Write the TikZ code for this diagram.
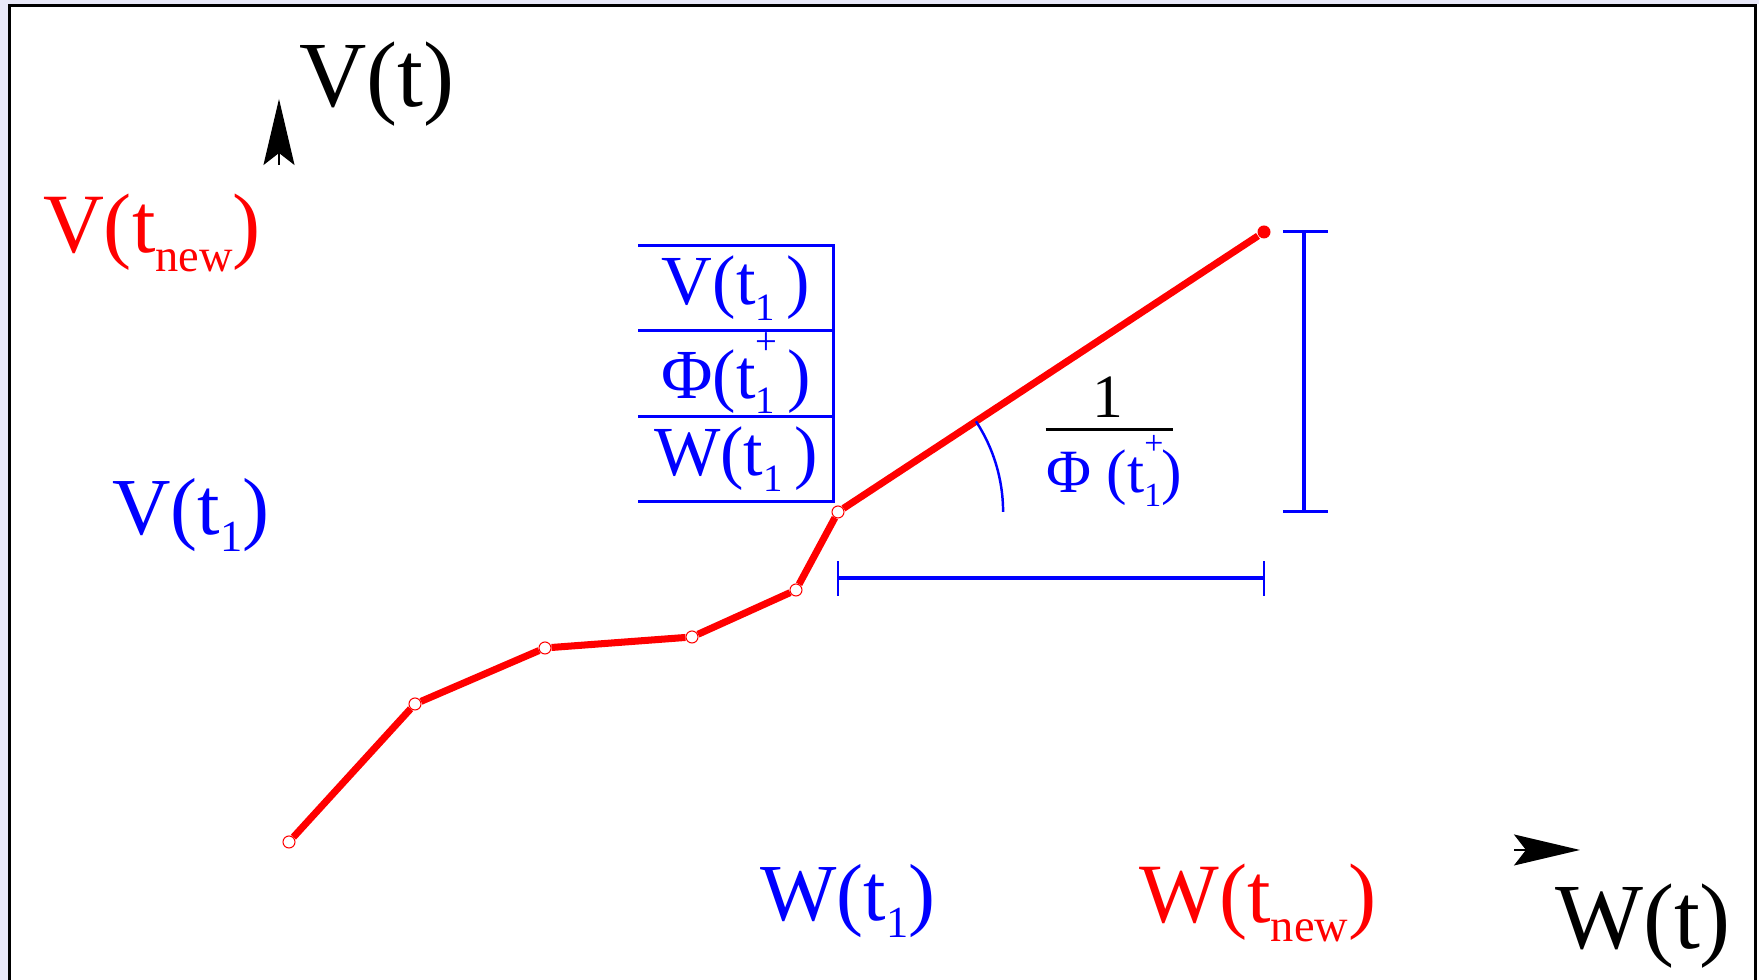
\documentclass[tikz,border=0pt]{standalone}
\usepackage{fontspec}
\setmainfont{LiberationSerif}[
    Extension=.ttf,
    UprightFont=*-Regular,
    BoldFont=*-Bold,
    ItalicFont=*-Italic,
    BoldItalicFont=*-BoldItalic
]
\usepackage{graphicx}
\usepackage{xcolor}
\usepackage{tikz}
\usetikzlibrary{arrows.meta, positioning}

\definecolor{pagebg}{RGB}{232,232,248}
\newcommand{\lsub}[1]{\raisebox{-0.22em}{\scalebox{0.55}{#1}}}
\newcommand{\lsubsup}[2]{\rlap{\raisebox{0.62em}{\scalebox{0.55}{#2}}}\lsub{#1}}

\begin{document}
\begin{tikzpicture}[
    x=0.01cm, y=0.01cm,
    axislabel/.style={font=\fontsize{26.5}{30}\selectfont, text=black, inner sep=0pt},
    redlabel/.style={font=\fontsize{24}{28}\selectfont, text=red, inner sep=0pt},
    bluelabel/.style={font=\fontsize{23}{27}\selectfont, text=blue, inner sep=0pt},
    cell/.style={
        rectangle,
        minimum width=1.94cm,
        minimum height=0.84cm,
        inner sep=0pt,
        text=blue,
        font=\fontsize{20}{24}\selectfont
    },
    joint/.style={circle, draw=red, fill=white, line width=0.3pt, inner sep=0pt, minimum size=0.12cm},
    enddot/.style={circle, fill=red, inner sep=0pt, minimum size=0.13cm},
    trace/.style={red, line width=2pt},
    axisarrow/.style={-{Stealth[length=0.66cm, width=0.31cm, inset=0.12cm]}},
    bracket/.style={blue, line width=1.4pt},
    barend/.style={blue, line width=0.85pt},
    thinline/.style={line width=0.85pt}
]

\useasboundingbox (0,0) rectangle (1759,980);
\fill[pagebg] (0,0) rectangle (1759,980);
\fill[white] (8,0) rectangle (1759,976);
\draw[thinline] (9.5,0) -- (9.5,974.5) -- (1755.5,974.5) -- (1755.5,0);

% axes
\coordinate (vbase) at (279,815);
\coordinate (vtip)  at (279,881);
\draw[axisarrow] (vbase) -- (vtip);
\coordinate (wbase) at (1514,130);
\coordinate (wtip)  at (1580,130);
\draw[axisarrow] (wbase) -- (wtip);

\node[axislabel] (vlabel) at (377,896) {V(t)};
\node[axislabel] (wlabel) at (1643,54)  {W(t)};

\node[redlabel]  (vnew) at (152,747)  {V(t\lsub{new})};
\node[redlabel]  (wnew) at (1258,77)  {W(t\lsub{new})};
\node[bluelabel] (vone) at (191,465)  {V(t\lsub{1})};
\node[bluelabel] (wone) at (848,79)   {W(t\lsub{1})};

% stored values
\node[cell] (rowv) at (736,692) {V(t\lsub{1}\,)};
\node[cell, below=0pt of rowv]   (rowphi) {Φ(t\lsubsup{1}{+}\,)};
\node[cell, below=0pt of rowphi] (roww)   {W(t\lsub{1}\,)};
\draw[blue, thinline] (rowv.north west) -- (rowv.north east) -- (roww.south east) -- (roww.south west);
\draw[blue, thinline] (rowphi.north west) -- (rowphi.north east);
\draw[blue, thinline] (roww.north west) -- (roww.north east);

% trajectory
\node[joint]  (p0) at (289,138) {};
\node[joint]  (p1) at (415,276) {};
\node[joint]  (p2) at (545,332) {};
\node[joint]  (p3) at (692,343) {};
\node[joint]  (p4) at (796,390) {};
\node[joint]  (p5) at (838,468) {};
\node[enddot] (p6) at (1264,748) {};
\draw[trace] (p0) -- (p1) -- (p2) -- (p3) -- (p4) -- (p5) -- (p6);

% slope
\draw[blue, line width=0.7pt] ([shift={(0:1.65cm)}]p5.center) arc[start angle=0, end angle=33.3, radius=1.65cm];
\node[text=black, font=\fontsize{17.5}{21}\selectfont, inner sep=0pt] (fnum) at (1108,583) {1};
\node[text=blue, font=\fontsize{17.5}{21}\selectfont, inner sep=0pt] (fden) at (1114,509) {Φ (t\lsubsup{1}{+})};
\coordinate (fbar) at (0,550);
\draw[thinline, shorten >=0.09cm] (fden.west |- fbar) -- (fden.east |- fbar);

% increments
\coordinate (hlev) at (0,402);
\coordinate (hlo)  at (0,384);
\coordinate (hhi)  at (0,419);
\draw[bracket] (p5 |- hlev) -- (p6 |- hlev);
\draw[barend] (p5 |- hlo) -- (p5 |- hhi);
\draw[barend] (p6 |- hlo) -- (p6 |- hhi);

\coordinate (vlev)   at (1304,0);
\coordinate (vleft)  at (1283,0);
\coordinate (vright) at (1328,0);
\draw[bracket] (vlev |- p6) -- (vlev |- p5);
\draw[barend] (vleft |- p6) -- (vright |- p6);
\draw[barend] (vleft |- p5) -- (vright |- p5);

\end{tikzpicture}
\end{document}
